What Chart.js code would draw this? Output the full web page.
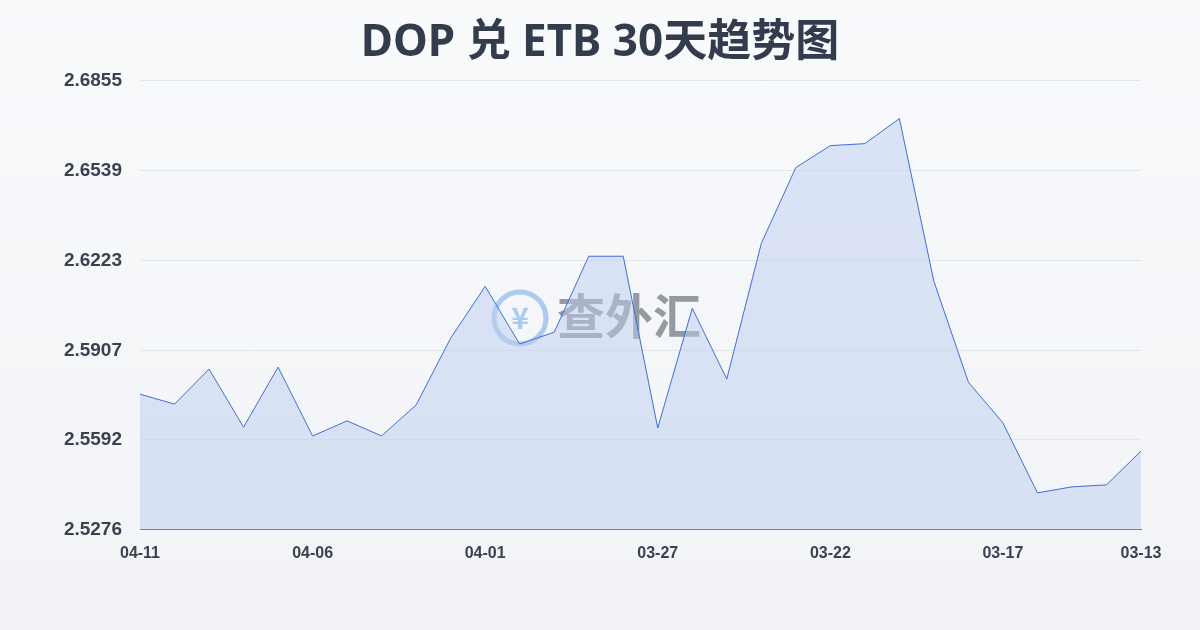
<!DOCTYPE html>
<html><head><meta charset="utf-8">
<script src="https://cdn.jsdelivr.net/npm/chart.js@4/dist/chart.umd.min.js"></script>
<style>
html,body{margin:0;padding:0;}
body{width:1200px;height:630px;background:linear-gradient(180deg,#f9fafc,#f1f3f6);font-family:"Noto Sans","Noto Sans CJK SC",sans-serif;}
#wrap{position:absolute;left:0;top:0;width:1200px;height:630px;}
</style></head><body>
<div id="wrap"><canvas id="c" width="1200" height="630"></canvas></div>
<script>
const labels=["04-11","04-10","04-09","04-08","04-07","04-06","04-05","04-04","04-03","04-02","04-01","03-31","03-30","03-29","03-28","03-27","03-26","03-25","03-24","03-23","03-22","03-21","03-20","03-19","03-18","03-17","03-16","03-15","03-14","03-13"];
const values=[2.5753,2.5718,2.5841,2.5637,2.5848,2.5606,2.5659,2.5606,2.5715,2.5950,2.6132,2.5929,2.5971,2.6238,2.6238,2.5634,2.6055,2.5806,2.6283,2.6550,2.6627,2.6634,2.6722,2.6150,2.5795,2.5652,2.5406,2.5427,2.5434,2.5553];
const yTicks=[2.5276,2.5592,2.5907,2.6223,2.6539,2.6855];
const title="DOP 兑 ETB 30天趋势图";
const wm={id:'wm',beforeDatasetsDraw(ch){const c=ch.ctx;c.save();
 c.globalAlpha=0.6;c.strokeStyle='#7aaee8';c.lineWidth=5;c.beginPath();c.arc(520,318,26,0,Math.PI*2);c.stroke();
 c.fillStyle='#7aaee8';c.font='bold 30px "Noto Sans CJK SC"';c.textAlign='center';c.textBaseline='middle';c.fillText('¥',520,318);
 c.fillStyle='#555c66';c.font='bold 48px "Noto Sans CJK SC"';c.textAlign='left';c.fillText('查外汇',557,316);c.restore();}};
new Chart(document.getElementById('c'),{type:'line',
data:{labels,datasets:[{data:values,borderColor:'#3d6fd6',borderWidth:1,backgroundColor:'rgba(190,205,240,0.5)',fill:'start',pointRadius:0,tension:0}]},
options:{responsive:false,animation:false,
layout:{padding:{left:59,right:59,top:0,bottom:61}},
plugins:{legend:{display:false},tooltip:{enabled:false},
 title:{display:true,text:title,color:'#333c4d',font:{size:44,weight:'bold',family:'"Noto Sans","Noto Sans CJK SC"'},padding:{top:17,bottom:11}}},
scales:{
x:{grid:{display:false},border:{color:'#3d6fd6'},ticks:{color:'#3a4150',font:{size:16,weight:'bold'},maxRotation:0,autoSkip:false,padding:6,
 callback:(v,i)=>(i%5===0||i===29)?labels[i]:''}},
y:{min:2.5276,max:2.6855,afterFit(s){s.width=81;},afterBuildTicks(s){s.ticks=yTicks.map(v=>({value:v}));},
 grid:{color:'#e3e6ea',drawTicks:false},border:{display:false},
 ticks:{color:'#3a4150',font:{size:19,weight:'bold'},padding:18,callback:v=>v.toFixed(4)}}}},
plugins:[wm]});
</script></body></html>
